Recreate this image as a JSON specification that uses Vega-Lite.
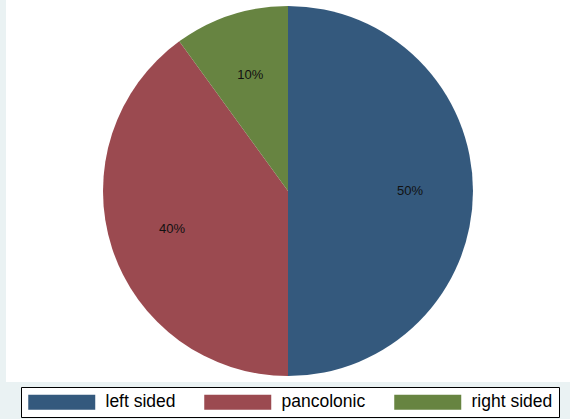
{
  "$schema": "https://vega.github.io/schema/vega-lite/v6.json",
  "width": 564,
  "height": 382,
  "padding": {"left": 6, "top": 0, "right": 0, "bottom": 37},
  "autosize": {"type": "none"},
  "background": "#eaf2f3",
  "view": {"stroke": null, "fill": "white"},
  "config": {"font": "Liberation Sans"},
  "data": {
    "values": [
      {"category": "left sided", "value": 50, "label": "50%"},
      {"category": "pancolonic", "value": 40, "label": "40%"},
      {"category": "right sided", "value": 10, "label": "10%"}
    ]
  },
  "encoding": {
    "theta": {"field": "value", "type": "quantitative", "stack": true},
    "order": {"field": "value", "type": "quantitative", "sort": "descending"}
  },
  "layer": [
    {
      "mark": {"type": "arc", "outerRadius": 185, "strokeWidth": 0},
      "encoding": {
        "color": {
          "field": "category",
          "type": "nominal",
          "scale": {
            "domain": ["left sided", "pancolonic", "right sided"],
            "range": ["#34597d", "#9b4a50", "#678441"]
          },
          "legend": {
            "title": null,
            "orient": "none",
            "legendX": 15,
            "legendY": 387,
            "direction": "horizontal",
            "columns": 3,
            "symbolType": "M-1,-1H7.933V1H-1Z",
            "symbolSize": 225,
            "symbolStrokeWidth": 0,
            "symbolOpacity": 1,
            "labelFontSize": 17.5,
            "labelColor": "#000000",
            "labelFont": "Liberation Sans",
            "labelOffset": 61,
            "labelLimit": 200,
            "columnPadding": 27,
            "padding": 6,
            "fillColor": "white",
            "strokeColor": "black"
          }
        }
      }
    },
    {
      "mark": {"type": "text", "radius": 122, "fontSize": 13, "font": "Liberation Sans"},
      "encoding": {
        "detail": {"field": "category", "type": "nominal"},
        "text": {"field": "label", "type": "nominal"},
        "color": {"value": "#111111"}
      }
    }
  ]
}
